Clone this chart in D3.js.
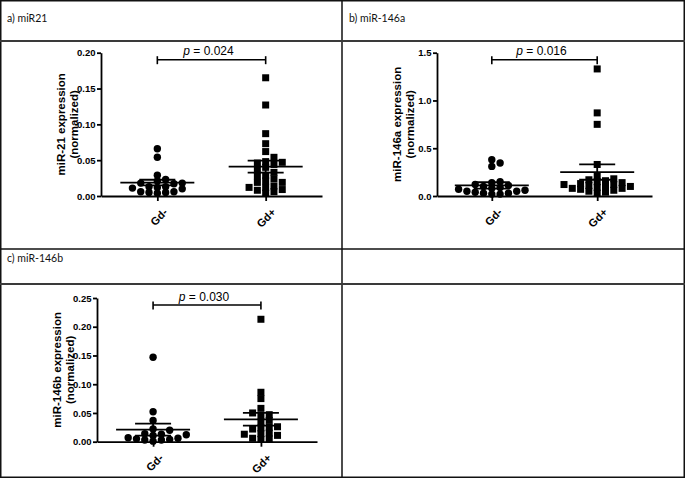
<!DOCTYPE html>
<html><head><meta charset="utf-8">
<script src="https://cdn.jsdelivr.net/npm/d3@7"></script>
<style>body{margin:0;background:#fff}svg{display:block}</style>
</head><body>
<script>
// ---------- data ----------
const categories = ["Gd-", "Gd+"];
const panelTitles = ["a) miR21", "b) miR-146a", "c) miR-146b"];
const yLabels = ["miR-21 expression", "miR-146a expression", "miR-146b expression"];
const yLabel2 = "(normalized)";
const pValues = ["0.024", "0.016", "0.030"];
const yMax = [0.20, 1.5, 0.25];
const yTicks = [[0, 0.05, 0.10, 0.15, 0.20], [0, 0.5, 1.0, 1.5], [0, 0.05, 0.10, 0.15, 0.20, 0.25]];
const yTickFormats = [".2f", ".1f", ".2f"];

const miR21_GdNeg = [0.066, 0.054, 0.029, 0.023, 0.021, 0.018, 0.018, 0.017, 0.013, 0.013, 0.012, 0.011, 0.010, 0.006, 0.005, 0.004, 0.005, 0.006];
const miR21_GdPos = [0.165, 0.127, 0.087, 0.073, 0.062, 0.054, 0.048, 0.047, 0.046, 0.044, 0.040, 0.036, 0.033, 0.029, 0.028, 0.024, 0.021, 0.019, 0.019, 0.014, 0.012, 0.012, 0.009, 0.008, 0.006, 0.004];
const miR146a_GdNeg = [0.38, 0.345, 0.31, 0.15, 0.14, 0.12, 0.11, 0.10, 0.09, 0.08, 0.07, 0.06, 0.05, 0.05, 0.04, 0.03, 0.03, 0.02, 0.02];
const miR146a_GdPos = [1.33, 0.87, 0.75, 0.33, 0.21, 0.18, 0.17, 0.16, 0.15, 0.14, 0.13, 0.12, 0.12, 0.11, 0.10, 0.10, 0.09, 0.08, 0.08, 0.07, 0.06, 0.05, 0.04, 0.03];
const miR146b_GdNeg = [0.147, 0.052, 0.037, 0.022, 0.020, 0.014, 0.013, 0.012, 0.011, 0.007, 0.006, 0.005, 0.004, 0.003, 0.003, 0.001];
const miR146b_GdPos = [0.213, 0.086, 0.075, 0.058, 0.050, 0.047, 0.044, 0.037, 0.034, 0.026, 0.025, 0.024, 0.022, 0.015, 0.014, 0.013, 0.011, 0.006, 0.005, 0.004];

const means = [[0.0187, 0.041], [0.111, 0.25], [0.021, 0.039]];
const sems = [[0.004, 0.0085], [0.033, 0.08], [0.0105, 0.011]];

const seriesByPanel = [
  [miR21_GdNeg, miR21_GdPos],
  [miR146a_GdNeg, miR146a_GdPos],
  [miR146b_GdNeg, miR146b_GdPos]
];

// ---------- layout ----------
const W = 685, H = 478;
const panels = [
  {x0: 101, x1: 322, yTop: 52.7, yBot: 196, tx: 7, ty: 22},
  {x0: 437, x1: 652, yTop: 52.7, yBot: 196, tx: 349, ty: 22},
  {x0: 97, x1: 317, yTop: 298, yBot: 441.7, tx: 7, ty: 262}
];

const svg = d3.select("body").append("svg").attr("width", W).attr("height", H);

// table grid
const grid = svg.append("g").attr("fill", "none");
grid.append("rect").attr("x", 0.75).attr("y", 0.75).attr("width", W - 1.5).attr("height", H - 1.5)
  .attr("stroke", "#111").attr("stroke-width", 1.5);
grid.append("line").attr("x1", 342).attr("x2", 342).attr("y1", 0).attr("y2", H).attr("stroke", "#111").attr("stroke-width", 1.5);
[[41, 2, "#3a3a3a"], [249, 1.5, "#111"], [284, 2, "#3a3a3a"]].forEach(([y, w, c]) => {
  grid.append("line").attr("x1", 0).attr("x2", W).attr("y1", y).attr("y2", y).attr("stroke", c).attr("stroke-width", w);
});

function swarm(values, yScale, cx, spacing, minDy) {
  const pts = values.map(v => ({v, y: yScale(v)})).sort((a, b) => a.v - b.v);
  const placed = [];
  pts.forEach(p => {
    for (let k = 0; k < 30; k++) {
      const off = k === 0 ? 0 : (k % 2 ? 1 : -1) * Math.ceil(k / 2) * spacing;
      const x = cx + off;
      const ok = placed.every(q => Math.abs(q.y - p.y) >= minDy || Math.abs(q.x - x) >= spacing * 0.95);
      if (ok) { p.x = x; break; }
    }
    placed.push(p);
  });
  return placed;
}

const FONT = "'Liberation Sans', Arial, sans-serif";

panels.forEach((P, i) => {
  const g = svg.append("g");
  // title
  g.append("text").attr("x", P.tx).attr("y", P.ty)
    .attr("font-family", "Lato, 'Open Sans', sans-serif").attr("font-size", 10.5).attr("fill", "#111")
    .text(panelTitles[i]);

  const y = d3.scaleLinear().domain([0, yMax[i]]).range([P.yBot, P.yTop]);
  const x = d3.scalePoint().domain(categories).range([P.x0, P.x1]).padding(0.52);

  // y axis
  const ya = g.append("g").attr("transform", `translate(${P.x0},0)`)
    .call(d3.axisLeft(y).tickValues(yTicks[i]).tickFormat(d3.format(yTickFormats[i])).tickSize(4).tickPadding(1.5).tickSizeOuter(0));
  ya.selectAll("path, line").attr("stroke", "#000").attr("stroke-width", 1.8);
  ya.selectAll("text").attr("font-family", FONT).attr("font-weight", "bold").attr("font-size", 9.5).attr("fill", "#000");

  // x axis
  const xa = g.append("g").attr("transform", `translate(0,${P.yBot})`)
    .call(d3.axisBottom(x).tickSize(5).tickSizeOuter(0).tickFormat(""));
  xa.selectAll("path, line").attr("stroke", "#000").attr("stroke-width", 1.8);
  xa.selectAll("text").remove();
  categories.forEach(c => {
    g.append("text")
      .attr("transform", `translate(${x(c) + 11},${P.yBot + 17}) rotate(-45)`)
      .attr("text-anchor", "end")
      .attr("font-family", FONT).attr("font-weight", "bold").attr("font-size", 11)
      .text(c);
  });

  // y label
  const yc = (P.yTop + P.yBot) / 2;
  [[yLabels[i], -36], [yLabel2, -23.5]].forEach(([t, dx]) => {
    g.append("text")
      .attr("transform", `translate(${P.x0 + dx},${yc}) rotate(-90)`)
      .attr("text-anchor", "middle")
      .attr("font-family", FONT).attr("font-weight", "bold").attr("font-size", 11.5)
      .text(t);
  });

  // points
  seriesByPanel[i].forEach((vals, j) => {
    const pts = swarm(vals, y, x(categories[j]), 8.3, 5.5);
    if (j === 0) {
      g.selectAll(null).data(pts).enter().append("circle")
        .attr("cx", d => d.x).attr("cy", d => d.y).attr("r", 3.7).attr("fill", "#000");
    } else {
      g.selectAll(null).data(pts).enter().append("rect")
        .attr("x", d => d.x - 3.5).attr("y", d => d.y - 3.5).attr("width", 7).attr("height", 7).attr("fill", "#000");
    }
    // mean & SEM
    const cx = x(categories[j]);
    const m = means[i][j], s = sems[i][j];
    const lg = g.append("g").attr("stroke", "#000").attr("stroke-width", 1.8);
    lg.append("line").attr("x1", cx - 37).attr("x2", cx + 37).attr("y1", y(m)).attr("y2", y(m));
    lg.append("line").attr("x1", cx - 18).attr("x2", cx + 18).attr("y1", y(m + s)).attr("y2", y(m + s));
    lg.append("line").attr("x1", cx - 18).attr("x2", cx + 18).attr("y1", y(m - s)).attr("y2", y(m - s));
    lg.append("line").attr("x1", cx).attr("x2", cx).attr("y1", y(m + s)).attr("y2", y(m - s));
  });

  // significance bracket
  const by = P.yTop + 7;
  const xa1 = x(categories[0]), xa2 = x(categories[1]);
  const bg = g.append("g").attr("stroke", "#000").attr("stroke-width", 1.6);
  bg.append("line").attr("x1", xa1).attr("x2", xa2).attr("y1", by).attr("y2", by);
  bg.append("line").attr("x1", xa1).attr("x2", xa1).attr("y1", by - 3.5).attr("y2", by + 4.5);
  bg.append("line").attr("x1", xa2).attr("x2", xa2).attr("y1", by - 3.5).attr("y2", by + 4.5);
  const pt = g.append("text").attr("x", (xa1 + xa2) / 2 - 3).attr("y", by - 4.5)
    .attr("text-anchor", "middle")
    .attr("font-family", FONT).attr("font-size", 12);
  pt.append("tspan").attr("font-style", "italic").text("p");
  pt.append("tspan").text(" = " + pValues[i]);
});
</script>
</body></html>
